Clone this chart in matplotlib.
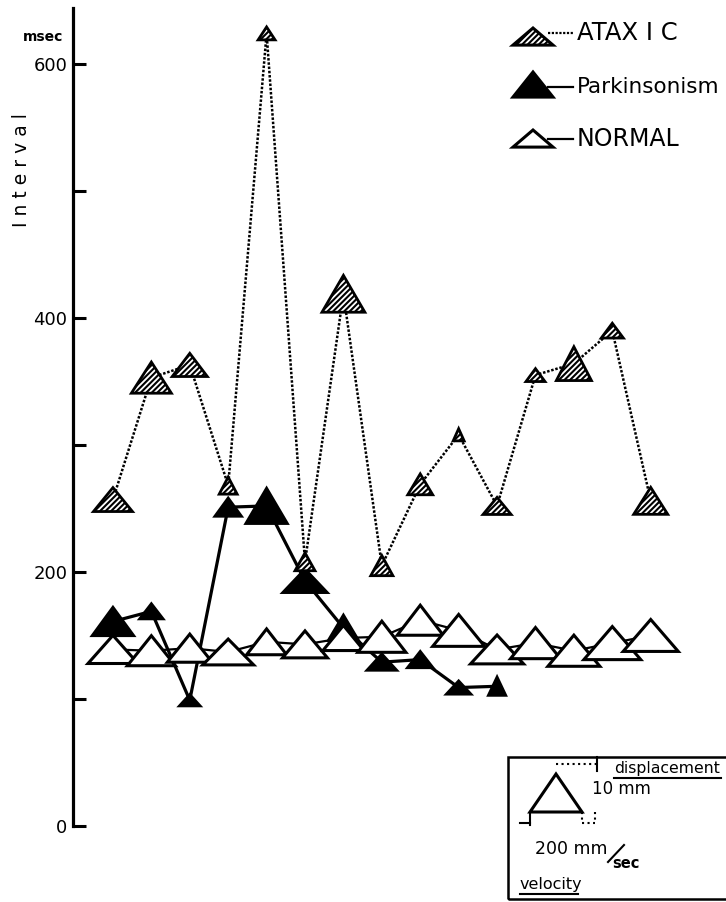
import matplotlib
matplotlib.use("Agg")
import matplotlib.pyplot as plt
import matplotlib.transforms as mtransforms
from matplotlib.patches import Polygon, Rectangle
from matplotlib.lines import Line2D

plt.rcParams["font.family"] = "DejaVu Sans"
plt.rcParams["hatch.linewidth"] = 1.5

# interval (msec) per successive movement, triangle = displacement (mm) x peak velocity (mm/sec)
ataxic_interval = [257, 353, 363, 268, 624, 208, 419, 205, 269, 308, 252, 355, 364, 390, 256]
ataxic_disp = [6.3, 8.2, 6.1, 4.5, 3.4, 4.7, 9.7, 5.3, 5.5, 3.2, 4.5, 3.4, 8.9, 3.9, 7.1]
ataxic_vel = [150, 154, 135, 69, 65, 77, 165, 85, 96, 42, 108, 73, 135, 85, 131]

parkinson_interval = [161, 169, 99, 251, 252, 193, 156, 129, 131, 109, 110]
parkinson_disp = [7.4, 3.9, 2.9, 4.7, 9.2, 6.1, 6.6, 4.2, 4.2, 3.4, 4.7]
parkinson_vel = [158, 88, 77, 100, 158, 169, 115, 112, 96, 92, 65]

normal_interval = [139, 138, 140, 137, 145, 143, 148, 149, 162, 154, 139, 144, 138, 144, 150]
normal_disp = [7.4, 7.9, 7.4, 6.8, 6.8, 7.1, 6.6, 8.2, 7.9, 8.4, 7.6, 8.2, 8.2, 8.7, 8.4]
normal_vel = [192, 185, 173, 196, 154, 173, 158, 185, 177, 200, 204, 192, 200, 219, 212]

y_ticks = [0, 100, 200, 300, 400, 500, 600]
y_tick_labels = ["0", "", "200", "", "400", "", "600"]

# scale of the triangle glyphs: 10 mm high, 200 mm/sec wide
REF_MM, REF_H = 10, 0.38
REF_VEL, REF_W = 200, 0.52

W_PX, H_PX = 726, 902
fig = plt.figure(figsize=(W_PX / 100, H_PX / 100), dpi=100)


def fxy(x, y):
    return x / W_PX, 1 - y / H_PX


ax = fig.add_axes([73 / W_PX, (H_PX - 826) / H_PX, (W_PX - 73) / W_PX, 818 / H_PX])
ax.set_xlim(-1.04, 15.96)
ax.set_ylim(0, 644)
for s in ["top", "right", "bottom"]:
    ax.spines[s].set_visible(False)
ax.spines["left"].set_linewidth(2.3)
ax.set_xticks([])
ax.set_yticks(y_ticks)
ax.set_yticklabels(y_tick_labels)
ax.tick_params(axis="y", direction="in", length=9.5, width=2.2, pad=4, labelsize=13)


def triangle(x, y, disp, vel, base, face, hatch=None, z=3, lw=2.2, centred=True):
    # triangle height = displacement, base = velocity; centred on the point vertically
    h = disp / REF_MM * REF_H
    w = vel / REF_VEL * REF_W
    top = h / 2 if centred else 0
    trans = fig.dpi_scale_trans + mtransforms.ScaledTranslation(x, y, base)
    p = Polygon([(0, top), (-w / 2, top - h), (w / 2, top - h)], closed=True, transform=trans,
                facecolor=face, edgecolor="black", hatch=hatch, linewidth=lw,
                zorder=z, clip_on=False, joinstyle="miter")
    if base is ax.transData:
        ax.add_patch(p)
    else:
        fig.add_artist(p)


# Parkinsonism
px = list(range(len(parkinson_interval)))
ax.plot(px, parkinson_interval, color="black", lw=2.3, zorder=2)
for x, y, d, v in zip(px, parkinson_interval, parkinson_disp, parkinson_vel):
    triangle(x, y, d, v, ax.transData, "black", z=3)

# Normal
nx = list(range(len(normal_interval)))
ax.plot(nx, normal_interval, color="black", lw=1.6, zorder=4)
for x, y, d, v in zip(nx, normal_interval, normal_disp, normal_vel):
    triangle(x, y, d, v, ax.transData, "white", z=5)

# Ataxic
ax_x = list(range(len(ataxic_interval)))
ax.plot(ax_x, ataxic_interval, color="black", lw=1.8, ls=(0, (1, 0.7)), zorder=6)
for x, y, d, v in zip(ax_x, ataxic_interval, ataxic_disp, ataxic_vel):
    triangle(x, y, d, v, ax.transData, "white", hatch="//////", z=7, lw=2.0)

# axis texts
fig.text(*fxy(63, 37), "msec", ha="right", va="center", fontsize=10, fontweight="bold")
fig.text(*fxy(22, 170), "I n t e r v a l", rotation=90, ha="center", va="center", fontsize=13.5)

# legend (top right)
legend_items = [("ATAX I C", "white", "//////", 28, 4.5, (0, (1, 0.7)), 33, 17.5),
                ("Parkinsonism", "black", None, 72, 6.6, "-", 87, 15.5),
                ("NORMAL", "white", None, 130, 4.5, "-", 139, 17)]
for label, face, hatch, top, d, ls, ty, fs in legend_items:
    triangle(*fxy(533, top), d, 154, fig.transFigure, face, hatch=hatch, z=7, centred=False)
    fig.add_artist(Line2D([fxy(548, 0)[0], fxy(573, 0)[0]], [fxy(0, ty)[1]] * 2,
                          color="black", lw=1.6, ls=ls))
    fig.text(*fxy(577, ty), label, ha="left", va="center", fontsize=fs)

# scale box (bottom right)
bx0, by0 = fxy(508, 899)
bx1, by1 = fxy(735, 757)
fig.add_artist(Rectangle((bx0, by0), bx1 - bx0, by1 - by0, transform=fig.transFigure,
                         facecolor="none", edgecolor="black", lw=1.8, clip_on=False))
triangle(*fxy(556, 774), REF_MM, REF_VEL, fig.transFigure, "white", z=7, centred=False)
seg = [((556, 764), (597, 764), ":"), ((597, 757), (597, 771), "-"),
       ((520, 823), (530, 823), "-"), ((530, 812), (530, 825), "-"),
       ((582, 812), (582, 823), ":"), ((582, 823), (595, 823), ":"), ((595, 812), (595, 823), ":"),
       ((614, 778), (721, 778), "-"), ((520, 894), (578, 894), "-"), ((608, 862), (624, 845), "-")]
for (x0, y0), (x1, y1), ls in seg:
    a, b = fxy(x0, y0), fxy(x1, y1)
    fig.add_artist(Line2D([a[0], b[0]], [a[1], b[1]], color="black", lw=1.5, ls=ls))
fig.text(*fxy(614, 769), "displacement", ha="left", va="center", fontsize=11.3)
fig.text(*fxy(592, 789), "10 mm", ha="left", va="center", fontsize=12)
fig.text(*fxy(535, 849), "200 mm", ha="left", va="center", fontsize=12.5)
fig.text(*fxy(612, 864), "sec", ha="left", va="center", fontsize=10.5, fontweight="bold")
fig.text(*fxy(520, 885), "velocity", ha="left", va="center", fontsize=11.5)

plt.savefig("out.png", dpi=100)
plt.close()
